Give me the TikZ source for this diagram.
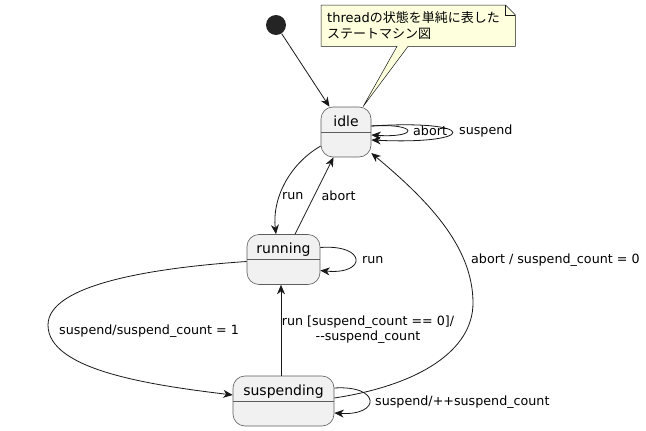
\documentclass[tikz,border=0pt]{standalone}
\usepackage{fontspec}
\setmainfont{DejaVu Sans}
\newfontfamily\jpfont{Noto Sans CJK JP}
\usetikzlibrary{arrows.meta, backgrounds}
\definecolor{linecol}{HTML}{181818}
\definecolor{statefill}{HTML}{F1F1F1}
\definecolor{notefill}{HTML}{FEFFDD}

\begin{document}
\begin{tikzpicture}[x=1pt, y=-1pt,
    >={Stealth[length=9.5pt, width=8pt, inset=3pt]},
    tr/.style={->, draw=linecol, line width=0.8pt},
    state/.style={draw=linecol!70, line width=0.6pt, fill=statefill, rounded corners=12pt,
        inner sep=0pt, text height=19pt, text depth=31pt, font=\fontsize{14}{16}\selectfont,
        path picture={\draw[linecol!70, line width=0.6pt]
            ([yshift=-25pt]path picture bounding box.north west) -- ([yshift=-25pt]path picture bounding box.north east);}},
    lbl/.style={anchor=west, inner sep=0pt, font=\fontsize{12.7}{15}\selectfont},
    notebox/.style={draw=linecol, line width=0.5pt, fill=notefill}]
    \useasboundingbox (0,0) rectangle (646,431);
    \node (start) [circle, fill=linecol!95, minimum size=20pt, inner sep=0pt] at (276,25) {};
    \node (idle) [state, minimum width=50pt] at (346,132) {idle};
    \node (running) [state, minimum width=73pt] at (283.5,259.5) {running};
    \node (suspending) [state, minimum width=101pt] at (283.5,401) {suspending};
    \node (note) [anchor=north west, text width=182pt, minimum height=41pt, inner xsep=6pt, inner ysep=0pt,
        align=left, font=\fontsize{13}{16}\selectfont] at (321,5)
        {thread{\jpfont の状態を単純に表した}\\{\jpfont ステートマシン図}};
    \begin{pgfonlayer}{background}
        \draw[notebox] (note.north west) -- ([xshift=-10pt]note.north east) -- ([yshift=-10pt]note.north east)
            -- (note.south east) -- ([xshift=87pt]note.south west) -- ([xshift=17pt]idle.north)
            -- ([xshift=76pt]note.south west) -- (note.south west) -- cycle;
        \draw[notebox, fill=none] ([xshift=-10pt]note.north east) -- ([xshift=-10pt, yshift=-10pt]note.north east)
            -- ([yshift=-10pt]note.north east);
    \end{pgfonlayer}
    % transitions
    \draw[tr] (start) -- (idle);
    \draw[tr] ([yshift=6pt]idle.east) .. controls (419,123) and (419,138) .. ([yshift=-3pt]idle.east);
    \draw[tr] ([yshift=6pt]idle.east) .. controls (479,119) and (479,145) .. ([yshift=-8pt]idle.east);
    \draw[tr] ([yshift=-14pt]idle.west) .. controls (288,165) and (272,200) .. ([xshift=-7.5pt]running.north);
    \draw[tr] ([xshift=11.5pt]running.north) -- ([xshift=-12.5pt]idle.south);
    \draw[tr] ([yshift=12pt]running.east) .. controls (367,244) and (367,275) .. ([yshift=-11pt]running.east);
    \draw[tr] ([yshift=-2pt]running.west) .. controls (150,268) and (48,285) .. (48,325)
        .. controls (48,370) and (150,385) .. ([yshift=6pt]suspending.west);
    \draw[tr] ([xshift=-2.5pt]suspending.north) -- ([xshift=-2.5pt]running.south);
    \draw[tr] ([yshift=3pt]suspending.east) .. controls (420,385) and (473,350) .. (473,303)
        .. controls (473,245) and (425,198) .. ([yshift=-21pt]idle.east);
    \draw[tr] ([yshift=13pt]suspending.east) .. controls (381,385) and (381,416) .. ([yshift=-12pt]suspending.east);
    % labels
    \node (lblabort) [lbl] at (413,131) {abort};
    \node (lblsuspend) [lbl] at (459,131) {suspend};
    \node (lblrun) [lbl] at (282,196) {run};
    \node (lblback) [lbl] at (321.5,196) {abort};
    \node (lblrerun) [lbl] at (362,260) {run};
    \node (lblsusp) [lbl] at (59,331) {suspend/suspend\_count = 1};
    \node (lblresume) [lbl, anchor=center, align=center] at (368,330) {run [suspend\_count == 0]/\\-{}-suspend\_count};
    \node (lblreset) [lbl] at (471,260) {abort / suspend\_count = 0};
    \node (lblcount) [lbl] at (375,402) {suspend/++suspend\_count};
\end{tikzpicture}
\end{document}
